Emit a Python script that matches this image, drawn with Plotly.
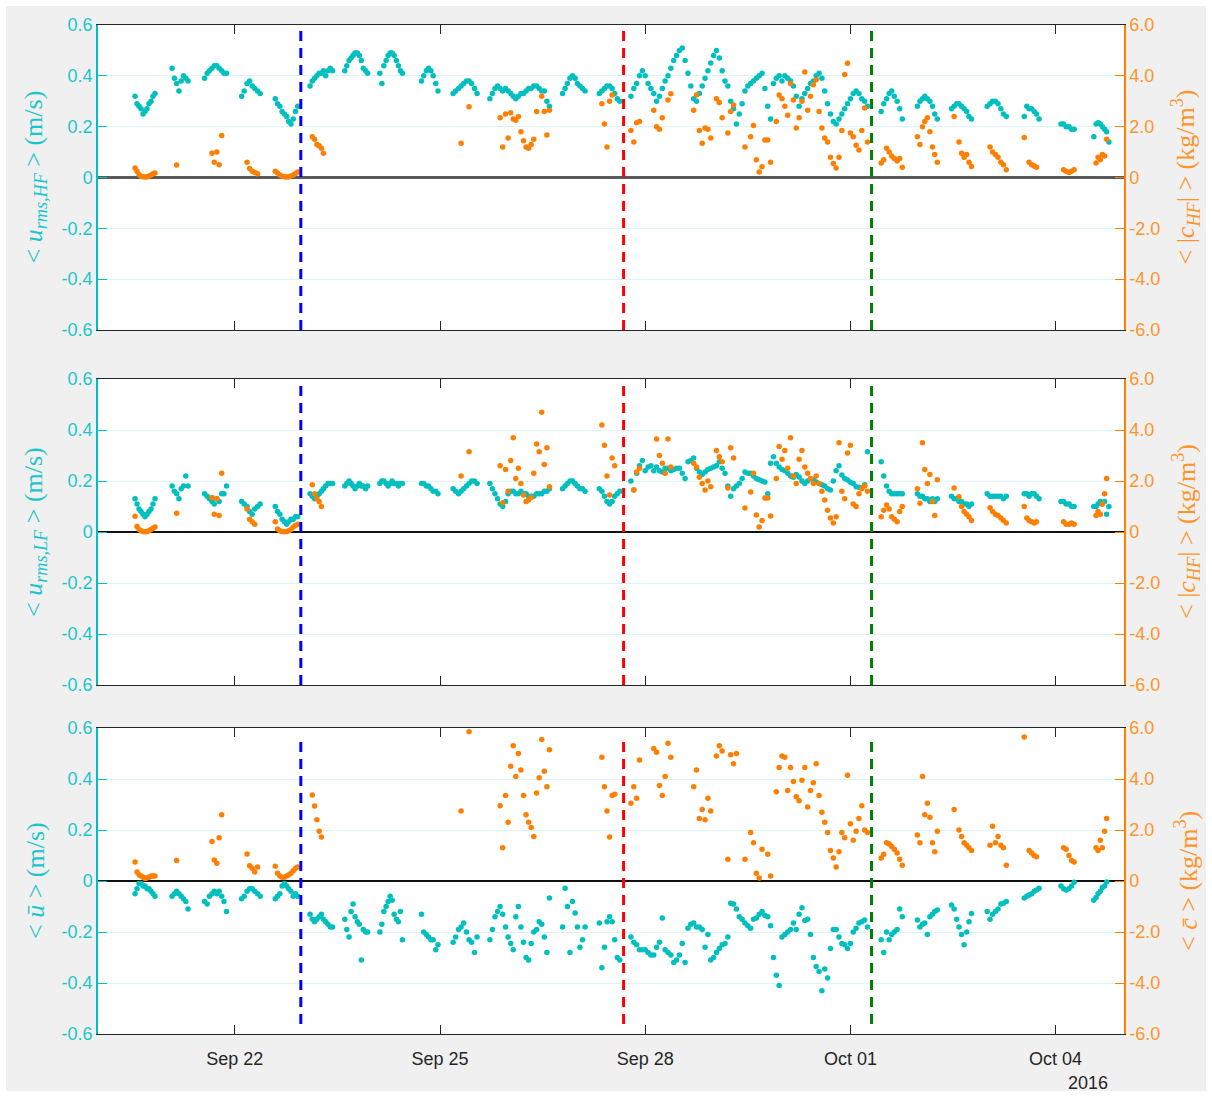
import pandas as pd
import plotly.graph_objects as go
from plotly.subplots import make_subplots

N = None
START = pd.Timestamp("2016-09-20 00:00")
END = pd.Timestamp("2016-10-05 00:00")

# sample times, hours after 2016-09-20 00:00 (one line per measurement burst)
t_hours = [
    13.0, 13.7, 14.4, 15.1, 15.8, 16.5, 17.2, 17.9, 18.6, 19.3, 20.0,
    26.0, 26.8, 27.6, 28.4, 29.2, 30.0, 30.8, 31.6,
    37.4, 38.3, 39.1, 40.0, 40.8, 41.7, 42.5, 43.4, 44.2, 45.1,
    50.4, 51.3, 52.3, 53.2, 54.1, 55.0, 56.0, 56.9,
    62.2, 63.0, 63.8, 64.6, 65.4, 66.2, 66.9, 67.7, 68.5, 69.3, 70.1,
    74.4, 75.2, 76.0, 76.8, 77.6, 78.4, 79.1, 79.9, 80.7, 81.5, 82.3,
    86.6, 87.3, 88.1, 88.8, 89.5, 90.2, 91.0, 91.7, 92.4, 93.1, 93.9, 94.6,
    98.9, 99.6, 100.3, 101.1, 101.8, 102.5, 103.2, 103.9, 104.7, 105.4, 106.1, 106.8,
    113.5, 114.3, 115.2, 116.0, 116.8, 117.6, 118.5, 119.3,
    124.6, 125.5, 126.5, 127.4, 128.3, 129.3, 130.2, 131.1, 132.1, 133.0,
    137.5, 138.4, 139.3, 140.2, 141.1, 142.0, 143.0, 143.9, 144.8, 145.7, 146.6, 147.5,
    148.4, 149.3, 150.2, 151.1, 152.0, 152.9, 153.9, 154.8, 155.7, 156.6, 157.5, 158.4,
    163.0, 163.9, 164.7, 165.6, 166.5, 167.4, 168.2, 169.1, 170.0, 170.9,
    175.9, 176.8, 177.7, 178.6, 179.5, 180.4, 181.3, 182.2, 183.1,
    187, 188, 189, 190, 191, 192, 193, 194, 195, 196,
    197, 198, 199, 200, 201, 202, 203, 204, 205, 206,
    207, 208, 209, 210, 211, 212, 213, 214, 215, 216,
    217, 218, 219, 220, 221, 222, 223, 224, 225, 226,
    227, 228, 229, 230, 231, 232, 233, 234, 235, 236,
    237, 238, 239, 240, 241, 242, 243, 244, 245, 246,
    247, 248, 249, 250, 251, 252, 253, 254, 255, 256,
    257, 258, 259, 260, 261, 262, 263, 264, 265, 266,
    267, 268, 269, 270,
    274.8, 275.7, 276.7, 277.6, 278.5, 279.4, 280.4, 281.3, 282.2,
    287.5, 288.4, 289.3, 290.1, 291.0, 291.9, 292.8, 293.6, 294.5,
    299.5, 300.4, 301.3, 302.1, 303.0, 303.9, 304.8, 305.6, 306.5,
    312.0, 313.0, 313.9, 314.9, 315.8, 316.8, 317.7, 318.7,
    325.0, 325.9, 326.7, 327.6, 328.5, 329.3, 330.2,
    337.9, 338.8, 339.7, 340.7, 341.6, 342.5,
    349.4, 350.2, 350.9, 351.7, 352.4, 353.2, 353.9, 354.7,
]

# panel 1: <u_rms,HF> (m/s)
u_rms_hf = [
    0.32, 0.29, 0.28, 0.27, 0.25, 0.26, 0.27, 0.29, 0.30, 0.32, 0.33,
    0.43, 0.39, 0.37, 0.34, 0.38, 0.40, 0.39, 0.38,
    0.39, 0.41, 0.42, 0.43, 0.44, 0.44, 0.43, 0.42, 0.41, 0.41,
    0.32, 0.34, 0.37, 0.38, 0.36, 0.35, 0.34, 0.33,
    0.31, 0.29, 0.28, 0.26, 0.25, 0.24, 0.22, 0.21, 0.23, 0.26, 0.28,
    0.36, 0.38, 0.39, 0.40, 0.41, 0.41, 0.42, 0.40, 0.42, 0.43, 0.42,
    0.42, 0.44, 0.46, 0.47, 0.48, 0.49, 0.49, 0.48, 0.46, 0.43, 0.42, 0.41,
    0.41, 0.37, 0.44, 0.46, 0.48, 0.49, 0.49, 0.48, 0.46, 0.44, 0.42, 0.41,
    0.38, 0.40, 0.42, 0.43, 0.42, 0.40, 0.37, 0.34,
    0.33, 0.34, 0.35, 0.36, 0.37, 0.38, 0.38, 0.37, 0.35, 0.33,
    0.31, 0.33, 0.35, 0.36, 0.35, 0.34, 0.35, 0.34, 0.33, 0.32, 0.31, 0.32,
    0.33, 0.33, 0.34, 0.35, 0.35, 0.36, 0.36, 0.35, 0.34, 0.34, 0.30, 0.28,
    0.33, 0.35, 0.37, 0.39, 0.40, 0.39, 0.37, 0.36, 0.35, 0.34,
    0.33, 0.34, 0.35, 0.36, 0.36, 0.35, 0.33, 0.31, 0.30,
    0.32, 0.35, 0.37, 0.40, 0.42, 0.40, 0.37, 0.35, 0.33, 0.30,
    0.32, 0.35, 0.38, 0.40, 0.43, 0.46, 0.48, 0.50, 0.51, 0.46,
    0.41, 0.36, 0.31, 0.30, 0.33, 0.36, 0.39, 0.42, 0.45, 0.48,
    0.50, 0.47, 0.42, 0.38, 0.36, 0.30, 0.27, 0.21, 0.25, 0.29,
    0.34, 0.36, 0.37, 0.38, 0.39, 0.40, 0.41, 0.35, 0.28, 0.23,
    0.37, 0.39, 0.40, 0.38, 0.40, 0.39, 0.38, 0.36, 0.32, 0.28,
    0.31, 0.33, 0.35, 0.37, 0.38, 0.40, 0.41, 0.39, 0.34, 0.29,
    0.25, 0.22, 0.21, 0.23, 0.25, 0.27, 0.29, 0.31, 0.33, 0.34,
    0.33, 0.31, 0.30, 0.28,
    0.26, 0.29, 0.31, 0.33, 0.34, 0.32, 0.30, 0.27, 0.23,
    0.28, 0.30, 0.31, 0.32, 0.31, 0.30, 0.28, 0.25, 0.23,
    0.27, 0.28, 0.29, 0.29, 0.28, 0.27, 0.26, 0.24, 0.23,
    0.28, 0.29, 0.30, 0.30, 0.29, 0.27, 0.25, 0.24,
    0.24, 0.28, 0.27, 0.27, 0.26, 0.25, 0.23,
    0.21, 0.21, 0.20, 0.20, 0.19, 0.19,
    0.16, 0.21, 0.215, 0.21, 0.20, 0.19, 0.18, 0.14,
]

# panel 1: <|c_HF|> (kg/m3)
c_abs_hf = [
    0.37, 0.25, 0.12, 0.05, 0.03, 0.02, 0.03, 0.06, 0.10, 0.15, 0.18,
    N, N, 0.49, N, N, N, N, N,
    N, N, N, 0.95, 0.6, 1.0, 0.5, 1.65, N, N,
    N, N, 0.6, 0.35, 0.25, 0.2, 0.15, N,
    0.25, 0.18, 0.10, 0.05, 0.03, 0.02, 0.03, 0.06, 0.10, 0.16, 0.22,
    N, 1.6, 1.5, 1.3, 1.25, 1.15, 0.95, N, N, N, N,
    N, N, N, N, N, N, N, N, N, N, N, N,
    N, N, N, N, N, N, N, N, N, N, N, N,
    N, N, N, N, N, N, N, N,
    N, N, N, 1.35, N, N, 2.78, N, N, N,
    N, N, N, N, 2.35, 1.2, 2.5, 1.55, 2.55, 2.3, 2.25, 2.4,
    1.8, 1.45, 1.2, 1.15, 1.3, 1.5, 2.6, N, 3.2, 2.6, 1.67, 2.65,
    N, N, N, N, N, N, N, N, N, N,
    N, 2.9, 2.1, 1.2, 3.0, 3.25, N, N, N,
    1.85, 1.4, 2.15, 2.2, N, N, N, N, 2.65, 2.0,
    1.9, 2.35, N, 3.05, 3.3, N, N, N, N, N,
    N, N, 2.65, 3.25, 1.85, 1.35, 1.95, 1.9, 1.55, N,
    3.1, 2.95, 2.35, N, 1.75, 2.6, 2.85, N, N, N,
    1.2, N, 1.6, 2.05, 0.7, 0.22, 0.42, 1.48, 1.48, 0.6,
    N, 2.2, 3.25, 3.1, 2.8, 2.45, 3.7, 3.05, 1.95, 2.35,
    3.0, 4.15, 2.65, 3.2, 3.65, 3.85, 2.6, 1.95, 1.55, 1.4,
    0.8, 0.55, 0.37, 0.8, 1.85, 4.05, 4.5, 1.75, 1.6, 1.27,
    1.08, 1.85, 2.73, 1.4,
    0.57, 0.7, 1.15, 1.0, 0.85, 0.75, 0.65, 0.75, 0.4,
    1.6, 1.3, 2.0, 2.2, 2.35, 1.8, 1.2, 0.9, 0.6,
    N, 2.4, N, 1.4, 0.95, 0.8, 0.9, 0.6, 0.43,
    N, 1.2, 1.0, 0.9, 0.8, 0.6, 0.5, 0.3,
    1.57, N, 0.6, 0.5, 0.45, 0.4, N,
    N, 0.3, 0.25, 0.2, 0.25, 0.3,
    N, 0.57, 0.8, 0.7, 0.9, 0.85, 1.5, N,
]

# panel 2: <u_rms,LF> (m/s)
u_rms_lf = [
    0.13, 0.11, 0.09, 0.08, 0.07, 0.06, 0.07, 0.08, 0.09, 0.11, 0.13,
    0.18, 0.16, 0.15, 0.13, 0.17, 0.18, 0.22, 0.18,
    0.15, 0.14, 0.13, 0.12, 0.11, 0.13, 0.12, 0.15, 0.15, 0.18,
    0.12, 0.11, 0.10, 0.08, 0.07, 0.09, 0.10, 0.11,
    0.10, 0.08, 0.07, 0.05, 0.04, 0.03, 0.04, 0.05, 0.05, 0.06, 0.06,
    0.15, 0.14, 0.13, 0.14, 0.15, 0.16, 0.17, 0.18, 0.19, 0.19, 0.19,
    0.18, 0.19, 0.20, 0.19, 0.18, 0.17, 0.18, 0.19, 0.18, 0.18, 0.17, 0.18,
    0.19, 0.20, 0.20, 0.19, 0.18, 0.19, 0.20, 0.19, 0.19, 0.18, 0.19, 0.19,
    0.19, 0.19, 0.18, 0.18, 0.17, 0.16, 0.16, 0.15,
    0.17, 0.16, 0.15, 0.16, 0.17, 0.18, 0.19, 0.20, 0.20, 0.19,
    0.19, 0.17, 0.15, 0.13, 0.11, 0.10, 0.12, 0.15, 0.16, 0.16, 0.15, 0.15,
    0.16, 0.15, 0.15, 0.14, 0.14, 0.14, 0.15, 0.15, 0.15, 0.16, 0.16, 0.17,
    0.17, 0.18, 0.19, 0.20, 0.20, 0.19, 0.18, 0.17, 0.17, 0.16,
    0.17, 0.16, 0.14, 0.12, 0.11, 0.12, 0.14, 0.15, 0.16,
    0.20, 0.165, 0.23, 0.26, 0.28, 0.24, 0.255, 0.26, 0.24, 0.255,
    0.24, 0.235, 0.25, 0.25, 0.24, 0.245, 0.25, 0.25, 0.23, 0.21,
    0.275, 0.28, 0.29, 0.25, 0.235, 0.225, 0.235, 0.245, 0.25, 0.255,
    0.26, 0.275, 0.25, 0.23, 0.18, 0.14, 0.17, 0.18, 0.19, 0.21,
    0.235, 0.23, 0.23, 0.22, 0.21, 0.205, 0.20, 0.196, 0.15, 0.27,
    0.295, 0.27, 0.255, 0.245, 0.24, 0.23, 0.22, 0.215, 0.225, 0.216,
    0.20, 0.19, 0.20, 0.21, 0.205, 0.196, 0.19, 0.185, 0.18, 0.17,
    0.165, 0.20, 0.24, 0.26, 0.224, 0.21, 0.204, 0.195, 0.19, 0.177,
    0.175, 0.173, 0.185, 0.315,
    0.275, 0.22, 0.18, 0.16, 0.15, 0.15, 0.15, 0.15, 0.15,
    0.15, 0.14, 0.14, 0.13, 0.13, 0.12, 0.13, 0.12, 0.13,
    0.14, 0.13, 0.13, 0.12, 0.12, 0.11, 0.11, 0.10, 0.11,
    0.15, 0.14, 0.14, 0.14, 0.14, 0.14, 0.13, 0.14,
    0.15, 0.15, 0.14, 0.15, 0.15, 0.14, 0.13,
    0.12, 0.12, 0.11, 0.11, 0.10, 0.10,
    0.10, 0.10, 0.11, 0.12, 0.11, 0.12, 0.07, 0.10,
]

# panel 2: <|c_HF|> (kg/m3)
c_abs_p2 = [
    0.62, 0.22, 0.10, 0.05, 0.02, 0.01, 0.02, 0.05, 0.10, 0.15, 0.20,
    N, N, 0.74, N, N, N, N, N,
    N, N, N, 1.35, 0.7, 1.3, 0.65, 2.3, N, N,
    N, N, 0.9, 0.5, 0.4, 0.3, N, N,
    0.4, 0.12, 0.05, 0.02, 0.01, 0.02, 0.05, 0.1, 0.2, 0.25, 0.3,
    N, 1.85, 1.5, 1.3, 1.2, 1.0, N, N, N, N, N,
    N, N, N, N, N, N, N, N, N, N, N, N,
    N, N, N, N, N, N, N, N, N, N, N, N,
    N, N, N, N, N, N, N, N,
    N, N, N, 2.2, N, N, 3.15, N, N, N,
    N, N, N, N, 2.6, 1.15, 2.45, 1.6, 2.8, 3.7, 2.1, 2.5,
    1.9, 1.45, 1.2, 1.25, 1.35, 2.3, 3.45, 3.15, 4.7, 2.65, 3.3, 1.77,
    N, N, N, N, N, N, N, N, N, N,
    N, 4.2, 3.4, 2.2, 1.45, 2.9, 2.6, N, N,
    N, 1.65, 2.35, 2.5, N, N, N, N, N, 3.65,
    3.0, 2.7, 2.3, 3.65, 2.55, N, N, N, N, N,
    N, N, 2.7, 2.55, 2.15, 1.9, 1.65, 2.0, 1.77, N,
    3.2, 2.95, 2.75, N, 1.73, 3.3, 2.9, N, N, N,
    0.94, N, 1.57, 2.3, 0.67, 0.2, 0.45, 1.33, 1.33, 0.63,
    N, 2.1, 3.35, 2.85, 3.2, 2.5, 3.7, 2.2, 1.9, 2.85,
    3.2, 2.55, 2.3, 2.1, 1.9, 2.2, 1.9, 1.6, 1.25, 0.85,
    0.55, 0.35, 0.6, 3.5, 1.6, 1.3, 3.1, 3.4, 1.1, 1.0,
    1.5, 1.7, 1.8, 1.6,
    0.6, 0.85, 1.06, 0.9, 0.6, 0.5, 0.4, 0.8, 1.0,
    1.7, 1.13, 3.5, 2.45, 1.9, 2.25, 1.2, 0.65, 2.05,
    N, 1.73, N, 1.38, 1.0, 0.8, 0.7, 0.6, 0.45,
    N, 0.95, 0.8, 0.7, 0.65, 0.55, 0.45, 0.35,
    1.0, 0.55, 0.45, 0.4, 0.35, 0.4, N,
    N, 0.4, 0.3, 0.3, 0.35, 0.3,
    N, 0.65, 0.8, 0.7, 1.1, 1.5, 2.1, N,
]

# panel 3: <u_bar> (m/s)
u_mean = [
    -0.05, -0.03, -0.01, -0.01, -0.02, -0.02, -0.03, -0.03, -0.04, -0.05, -0.06,
    -0.06, -0.05, -0.04, -0.05, -0.06, -0.07, -0.08, -0.11,
    -0.08, -0.09, -0.06, -0.05, -0.04, -0.05, -0.04, -0.06, -0.08, -0.12,
    -0.07, -0.06, -0.04, -0.03, -0.03, -0.04, -0.05, -0.06,
    -0.07, -0.06, -0.05, -0.02, -0.01, -0.02, -0.03, -0.04, -0.06, -0.05, -0.06,
    -0.13, -0.15, -0.16, -0.15, -0.14, -0.13, -0.15, -0.16, -0.17, -0.18, -0.18,
    -0.15, -0.19, -0.22, -0.12, -0.09, -0.14, -0.16, -0.17, -0.31, -0.19, -0.20, -0.20,
    -0.20, -0.17, -0.12, -0.10, -0.08, -0.06, -0.075, -0.13, -0.15, -0.16, -0.12, -0.23,
    -0.13, -0.20, -0.21, -0.22, -0.23, -0.23, -0.27, -0.25,
    -0.24, -0.22, -0.19, -0.18, -0.165, -0.20, -0.23, -0.24, -0.28, -0.22,
    -0.23, -0.19, -0.14, -0.12, -0.10, -0.13, -0.18, -0.22, -0.245, -0.27, -0.14, -0.10,
    -0.18, -0.24, -0.30, -0.31, -0.245, -0.20, -0.19, -0.16, -0.17, -0.22, -0.28, -0.067,
    -0.18, -0.028, -0.10, -0.28, -0.08, -0.125, -0.18, -0.26, -0.23, -0.18,
    -0.165, -0.34, -0.26, -0.16, -0.14, -0.16, -0.23, -0.30, -0.31,
    -0.22, -0.24, -0.25, -0.27, -0.27, -0.27, -0.28, -0.29, -0.29, -0.26,
    -0.24, -0.145, -0.27, -0.28, -0.29, -0.32, -0.31, -0.29, -0.245, -0.32,
    -0.185, -0.17, -0.165, -0.18, -0.18, -0.19, -0.26, -0.21, -0.31, -0.30,
    -0.28, -0.265, -0.25, -0.245, -0.22, -0.087, -0.09, -0.11, -0.14, -0.15,
    -0.165, -0.175, -0.185, -0.15, -0.145, -0.13, -0.12, -0.135, -0.14, -0.175,
    -0.30, -0.37, -0.41, -0.22, -0.21, -0.20, -0.19, -0.165, -0.19, -0.13,
    -0.105, -0.155, -0.15, -0.21, -0.30, -0.335, -0.355, -0.43, -0.345, -0.38,
    -0.265, -0.19, -0.19, -0.22, -0.245, -0.25, -0.265, -0.245, -0.20, -0.185,
    -0.165, -0.16, -0.153, -0.18,
    -0.23, -0.28, -0.20, -0.23, -0.21, -0.20, -0.19, -0.11, -0.14,
    -0.153, -0.18, -0.17, -0.165, -0.21, -0.14, -0.13, -0.12, -0.114,
    -0.094, -0.11, -0.15, -0.18, -0.21, -0.25, -0.20, -0.16, -0.127,
    -0.12, -0.15, -0.13, -0.12, -0.11, -0.09, -0.087, -0.08,
    -0.067, -0.06, -0.055, -0.05, -0.04, -0.035, -0.028,
    -0.02, -0.03, -0.035, -0.03, -0.02, -0.005,
    -0.075, -0.065, -0.05, -0.04, -0.025, -0.02, -0.004, N,
]

# panel 3: <c_bar> (kg/m3)
c_mean = [
    0.75, 0.35, 0.25, 0.2, 0.15, 0.1, 0.12, 0.15, 0.2, 0.2, 0.2,
    N, N, 0.8, N, N, N, N, N,
    N, N, N, 1.55, 0.82, 0.7, 1.7, 2.6, N, N,
    N, N, 1.06, 0.6, 0.5, 0.35, 0.55, N,
    0.58, 0.3, 0.2, 0.15, 0.15, 0.2, 0.25, 0.3, 0.4, 0.5, 0.55,
    N, 3.37, 2.94, 2.4, 1.95, 1.73, N, N, N, N, N,
    N, N, N, N, N, N, N, N, N, N, N, N,
    N, N, N, N, N, N, N, N, N, N, N, N,
    N, N, N, N, N, N, N, N,
    N, N, N, 2.75, N, N, 5.85, N, N, N,
    N, N, N, N, 2.95, 1.3, 3.35, 2.3, 4.5, 5.3, 4.1, 5.0,
    4.35, 3.35, 2.6, 2.3, 2.1, 1.75, 3.45, 4.05, 5.55, 4.3, 3.7, 5.15,
    N, N, N, N, N, N, N, N, N, N,
    N, 4.85, 3.7, 2.75, 1.73, 3.35, 3.4, N, N,
    3.05, 3.7, 3.25, 4.75, N, N, N, N, 5.2, 5.05,
    3.75, 3.35, 4.1, 5.4, 4.85, N, N, N, N, N,
    N, N, 3.7, 4.35, 2.45, 2.8, 2.4, 3.25, 2.75, N,
    4.9, 5.3, 5.1, N, 0.85, 4.95, 4.6, 5.0, N, N,
    0.85, N, 1.9, 1.5, 0.3, 0.12, 1.25, N, 1.05, 0.2,
    N, 3.5, 4.45, 4.9, 4.85, 3.55, 4.45, 3.9, 3.3, 3.15,
    3.95, 4.45, 2.9, 3.55, 3.85, 4.6, 3.35, 2.7, 2.3, 1.9,
    1.2, 0.9, 0.55, 1.15, 1.9, 1.7, 4.15, 2.25, 1.6, 1.95,
    2.45, 2.95, 2.0, 1.9,
    0.9, 1.05, 1.5, 1.45, 1.35, 1.25, 1.1, 0.85, 0.62,
    1.8, 1.5, 4.1, 2.6, 3.05, 2.5, 1.5, 1.15, 1.95,
    N, 2.8, N, 2.0, 1.75, 1.5, 1.4, 1.3, 1.2,
    N, 1.4, 2.15, 1.5, 1.75, 1.4, 1.3, 0.62,
    5.65, N, 1.2, 1.1, 1.0, 0.95, N,
    N, 1.3, 1.25, 1.0, 0.8, 0.75,
    N, 1.3, 1.2, 1.6, 1.3, 1.95, 2.45, N,
]

for arr in (u_rms_hf, c_abs_hf, u_rms_lf, c_abs_p2, u_mean, c_mean):
    assert len(arr) == len(t_hours), (len(arr), len(t_hours))

# event markers (vertical dashed lines)
event_times = ["2016-09-22 23:10", "2016-09-27 16:25", "2016-10-01 07:25"]
event_colors = ["#0000ff", "#ff0000", "#008000"]

x_tickvals = ["2016-09-22", "2016-09-25", "2016-09-28", "2016-10-01", "2016-10-04"]
x_ticktext = ["Sep 22", "Sep 25", "Sep 28", "Oct 01", "Oct 04"]
left_ticks = [-0.6, -0.4, -0.2, 0, 0.2, 0.4, 0.6]
left_text = ["-0.6", "-0.4", "-0.2", "0", "0.2", "0.4", "0.6"]
right_ticks = [-6, -4, -2, 0, 2, 4, 6]
right_text = ["-6.0", "-4.0", "-2.0", "0", "2.0", "4.0", "6.0"]

times = START + pd.to_timedelta(t_hours, unit="h")

CYAN = "#00BFBF"
CYAN_TXT = "#1CC5CC"
ORANGE = "#FF7F00"
ORANGE_TXT = "#FF9429"
W, H = 1212, 1097

fig = make_subplots(rows=3, cols=1, specs=[[{"secondary_y": True}]] * 3)

panels = [(u_rms_hf, c_abs_hf), (u_rms_lf, c_abs_p2), (u_mean, c_mean)]
for r, (uu, cc) in enumerate(panels, start=1):
    fig.add_trace(go.Scatter(x=times, y=uu, mode="markers",
                             marker=dict(color=CYAN, size=5.5),
                             showlegend=False, hoverinfo="skip"),
                  row=r, col=1, secondary_y=False)
    fig.add_trace(go.Scatter(x=times, y=cc, mode="markers",
                             marker=dict(color=ORANGE, size=5.5),
                             showlegend=False, hoverinfo="skip"),
                  row=r, col=1, secondary_y=True)

xdom = [98 / W, 1124 / W]
ydoms = [[1 - 330 / H, 1 - 25 / H], [1 - 685 / H, 1 - 379 / H], [1 - 1034 / H, 1 - 728 / H]]
tick_font = dict(family="Liberation Sans, Arial, sans-serif", size=18)

layout = dict(width=W, height=H, margin=dict(l=0, r=0, t=0, b=0),
              paper_bgcolor="#f0f0f0", plot_bgcolor="white")
zero_cols = ["#5a5a5a", "#111111", "#111111"]
zero_w = [2.5, 1.5, 1.5]
for i in range(3):
    xa = "xaxis" if i == 0 else f"xaxis{i+1}"
    ya = "yaxis" if i == 0 else f"yaxis{2*i+1}"
    ya2 = f"yaxis{2*i+2}"
    layout[xa] = dict(domain=xdom, range=[START, END], type="date",
                      tickvals=x_tickvals, ticktext=x_ticktext,
                      showticklabels=(i == 2), ticks="inside", ticklen=9,
                      tickcolor="#262626", tickwidth=1, showline=True,
                      linecolor="#262626", linewidth=1, mirror="ticks",
                      showgrid=False, zeroline=False, automargin=False,
                      tickfont=dict(color="#262626", **tick_font),
                      ticklabelstandoff=8)
    layout[ya] = dict(domain=ydoms[i], range=[-0.6, 0.6], tickvals=left_ticks,
                      ticktext=left_text, ticks="inside", ticklen=9,
                      tickcolor=CYAN, showline=True, linecolor=CYAN, linewidth=1.5,
                      showgrid=True, gridcolor="#d9f5f7", gridwidth=1,
                      zeroline=True, zerolinecolor=zero_cols[i], zerolinewidth=zero_w[i],
                      tickfont=dict(color=CYAN_TXT, **tick_font), automargin=False)
    layout[ya2] = dict(domain=ydoms[i], range=[-6, 6], tickvals=right_ticks,
                       ticktext=right_text, ticks="inside", ticklen=9,
                       tickcolor=ORANGE, showline=True, linecolor=ORANGE, linewidth=1.5,
                       showgrid=False, zeroline=False,
                       tickfont=dict(color=ORANGE_TXT, **tick_font), automargin=False)
fig.update_layout(**layout)

# vertical event lines
for i in range(3):
    xref = "x" if i == 0 else f"x{i+1}"
    yref = ("y" if i == 0 else f"y{2*i+1}") + " domain"
    y0, y1 = (0.033, 0.967) if i == 2 else (0, 1)
    for et, col in zip(event_times, event_colors):
        fig.add_shape(type="line", xref=xref, yref=yref, x0=et, x1=et, y0=y0, y1=y1,
                      line=dict(color=col, width=3, dash="10px,7px"))

# white outer border like the reference window
fig.add_shape(type="rect", xref="paper", yref="paper", x0=0, x1=1, y0=0, y1=1,
              line=dict(color="white", width=12), fillcolor="rgba(0,0,0,0)", layer="below")

serif = "Liberation Serif, Times New Roman, serif"
left_titles = ["&lt; <i>u</i><sub><i>rms,HF</i></sub> &gt; (m/s)",
               "&lt; <i>u</i><sub><i>rms,LF</i></sub> &gt; (m/s)",
               "&lt; <i>ū</i> &gt; (m/s)"]
right_titles = ["&lt; |<i>c</i><sub><i>HF</i></sub>| &gt; (kg/m<sup>3</sup>)",
                "&lt; |<i>c</i><sub><i>HF</i></sub>| &gt; (kg/m<sup>3</sup>)",
                "&lt; <i>c̄</i> &gt; (kg/m<sup>3</sup>)"]
centers = [1 - 177.5 / H, 1 - 532 / H, 1 - 881 / H]
for i in range(3):
    fig.add_annotation(text=left_titles[i], x=35 / W, y=centers[i], xref="paper", yref="paper",
                       textangle=-90, showarrow=False, xanchor="center", yanchor="middle",
                       font=dict(family=serif, size=26, color=CYAN_TXT))
    fig.add_annotation(text=right_titles[i], x=1186 / W, y=centers[i], xref="paper", yref="paper",
                       textangle=-90, showarrow=False, xanchor="center", yanchor="middle",
                       font=dict(family=serif, size=26, color=ORANGE_TXT))

fig.add_annotation(text="2016", x=1088 / W, y=1 - 1083 / H, xref="paper", yref="paper",
                   showarrow=False, xanchor="center", yanchor="middle",
                   font=dict(color="#262626", **tick_font))

fig.write_html("out.html")
